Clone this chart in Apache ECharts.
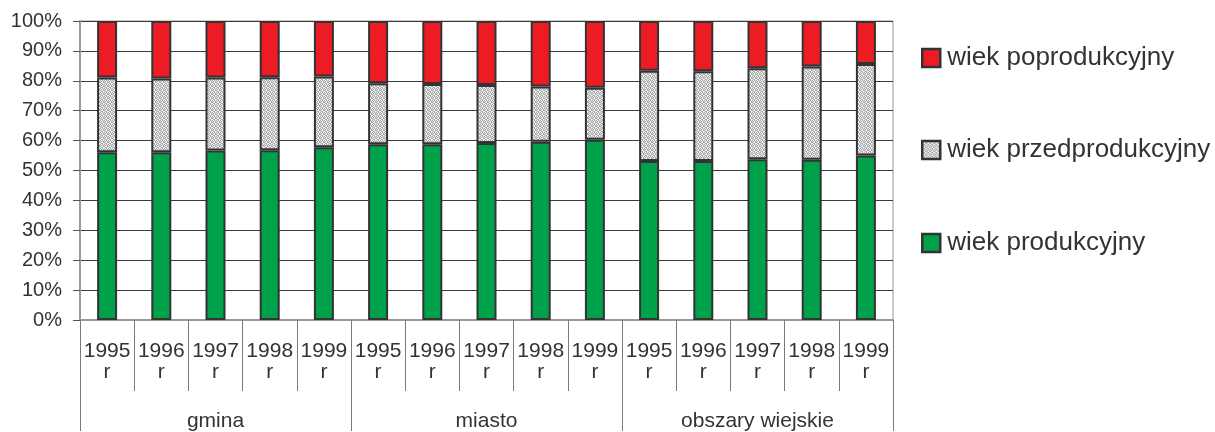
<!DOCTYPE html>
<html><head><meta charset="utf-8">
<script src="https://cdn.jsdelivr.net/npm/echarts@6/dist/echarts.min.js"></script>
<style>html,body{margin:0;padding:0;background:#fff}#c{width:1215px;height:432px}</style>
</head><body><div id="c"></div>
<script>
const groups = ['gmina', 'miasto', 'obszary wiejskie'];
const years = ['1995', '1996', '1997', '1998', '1999'];
const yTicks = [0, 10, 20, 30, 40, 50, 60, 70, 80, 90, 100];
const produkcyjny = [56.1, 56.1, 56.7, 56.8, 57.8, 58.8, 58.8, 59.2, 59.6, 60.3, 53.2, 53.2, 53.8, 53.6, 55.0];
const przedprodukcyjny = [25.0, 24.7, 24.4, 24.4, 23.6, 20.4, 20.1, 19.4, 18.5, 17.4, 30.2, 30.0, 30.4, 31.2, 30.6];
const poprodukcyjny = [18.9, 19.2, 18.9, 18.8, 18.6, 20.8, 21.1, 21.4, 21.9, 22.3, 16.6, 16.8, 15.8, 15.2, 14.4];

const categories = [];
groups.forEach(g => years.forEach(y => categories.push(g + '|' + y)));

// fine dotted texture for the grey series
const pc = document.createElement('canvas');
pc.width = 4; pc.height = 4;
const px = pc.getContext('2d');
px.fillStyle = '#e4e4e4'; px.fillRect(0, 0, 4, 4);
px.fillStyle = '#a8a8a8';
[[0,0],[2,0],[1,1],[3,2],[0,2],[2,3],[1,3],[3,1]].forEach(p => px.fillRect(p[0], p[1], 1, 1));
px.fillStyle = '#ffffff';
[[1,0],[3,3],[2,2]].forEach(p => px.fillRect(p[0], p[1], 1, 1));
const pattern = { image: pc, repeat: 'repeat' };

const FONT = 'Liberation Sans, Arial, sans-serif';
const border = { borderColor: '#333333', borderWidth: 2 };

const chart = echarts.init(document.getElementById('c'), null, { renderer: 'canvas' });
function legendAt(name, top) {
  return {
    data: [name], left: 921, top: top, orient: 'vertical', padding: 0,
    icon: 'rect', itemWidth: 18, itemHeight: 18, itemGap: 0,
    itemStyle: { borderColor: '#333333', borderWidth: 2.5 },
    textStyle: { fontFamily: FONT, fontSize: 26, color: '#333333', padding: [0, 0, 0, 2] },
    selectedMode: false
  };
}
chart.setOption({
  animation: false,
  backgroundColor: '#ffffff',
  grid: { left: 80, top: 21, right: 322, bottom: 111, show: true, borderColor: '#9f9793', borderWidth: 1, backgroundColor: 'transparent' },
  legend: [
    legendAt('wiek poprodukcyjny', 45),
    legendAt('wiek przedprodukcyjny', 137),
    legendAt('wiek produkcyjny', 230)
  ],
  xAxis: [{
    type: 'category', data: categories, position: 'bottom',
    axisLine: { lineStyle: { color: '#9f9793', width: 2 } },
    axisTick: { show: true, interval: 0, length: 71, lineStyle: { color: '#7a7a7a' } },
    axisLabel: {
      interval: 0, hideOverlap: false,
      margin: 21, fontFamily: FONT, fontSize: 21, color: '#333333', lineHeight: 21,
      formatter: v => v.split('|')[1] + '\nr'
    },
    splitLine: { show: false }
  }, {
    type: 'category', data: groups, position: 'bottom',
    axisLine: { show: false },
    axisTick: { show: true, interval: 0, length: 111, lineStyle: { color: '#7a7a7a' } },
    axisLabel: { interval: 0, margin: 91, fontFamily: FONT, fontSize: 21, color: '#333333' },
    splitLine: { show: false }
  }],
  yAxis: {
    type: 'value', min: yTicks[0], max: yTicks[yTicks.length - 1], interval: yTicks[1] - yTicks[0],
    axisLine: { show: true, lineStyle: { color: '#9f9793', width: 2 } },
    axisTick: { show: true, length: 7, lineStyle: { color: '#555555' } },
    axisLabel: { margin: 18, fontFamily: FONT, fontSize: 20, color: '#333333', formatter: '{value}%' },
    splitLine: { show: true, lineStyle: { color: '#3a3a3a', width: 1 } }
  },
  series: [
    { name: 'wiek produkcyjny', type: 'bar', stack: 's', data: produkcyjny, barWidth: 20,
      itemStyle: Object.assign({ color: '#00a14b' }, border) },
    { name: 'wiek przedprodukcyjny', type: 'bar', stack: 's', data: przedprodukcyjny, barWidth: 20,
      itemStyle: Object.assign({ color: pattern }, border) },
    { name: 'wiek poprodukcyjny', type: 'bar', stack: 's', data: poprodukcyjny, barWidth: 20,
      itemStyle: Object.assign({ color: '#ed1c24' }, border) }
  ]
});
</script></body></html>
